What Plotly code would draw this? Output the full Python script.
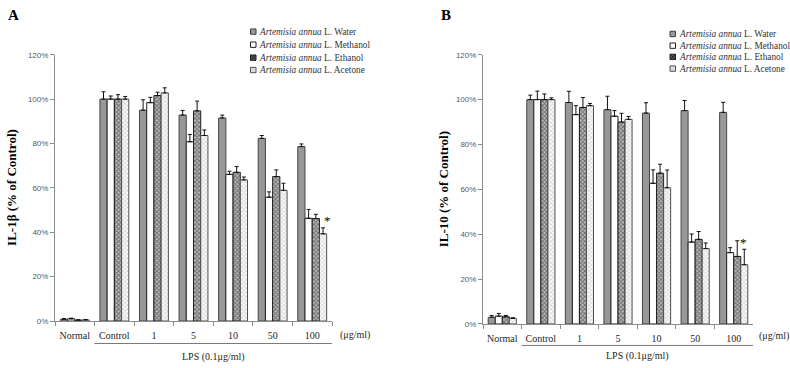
import plotly.graph_objects as go

categories = ["Normal", "Control", "1", "5", "10", "50", "100"]
series_names = ["Water", "Methanol", "Ethanol", "Acetone"]

water_A = [0.8, 100, 95.0, 92.8, 91.5, 82.3, 78.6]
water_A_err = [0.3, 3.3, 4.7, 2.1, 1.3, 1.3, 1.2]
meth_A = [1.0, 100, 98.4, 80.8, 66.1, 55.8, 46.3]
meth_A_err = [0.3, 1.4, 2.4, 3.3, 1.4, 2.4, 4.0]
eth_A = [0.4, 100, 101.6, 94.7, 67.0, 65.1, 46.2]
eth_A_err = [0.2, 2.0, 1.5, 4.4, 2.6, 3.0, 1.9]
ace_A = [0.5, 100, 102.8, 83.6, 63.6, 58.9, 39.3]
ace_A_err = [0.2, 1.2, 2.3, 2.5, 1.3, 3.2, 2.7]

water_B = [3.0, 100, 98.7, 95.5, 94.0, 95.1, 94.3]
water_B_err = [0.8, 2.0, 5.0, 6.0, 4.6, 4.5, 4.5]
meth_B = [3.5, 100, 93.3, 92.6, 62.7, 36.5, 31.8]
meth_B_err = [1.2, 3.8, 4.0, 2.5, 6.0, 3.6, 2.2]
eth_B = [3.2, 100, 96.5, 90.0, 67.2, 37.7, 30.1]
eth_B_err = [0.6, 2.5, 4.4, 3.9, 4.0, 3.5, 7.0]
ace_B = [2.5, 100, 97.3, 91.2, 60.7, 33.6, 26.4]
ace_B_err = [0.3, 0.8, 1.0, 1.3, 7.9, 2.5, 6.9]

y_ticks = [0, 20, 40, 60, 80, 100, 120]
y_tick_text = ["0%", "20%", "40%", "60%", "80%", "100%", "120%"]

SERIF = "Liberation Serif, Times New Roman, serif"
SANS = "Liberation Sans, Arial, sans-serif"

W, H = 790, 368

styles = {
    "Water": dict(color="#989898", line=dict(color="#454545", width=1)),
    "Methanol": dict(color="#ffffff", line=dict(color="#202020", width=1)),
    "Ethanol": dict(color="#606060", line=dict(color="#202020", width=1),
                    pattern=dict(shape="x", fgcolor="#1a1a1a", bgcolor="#bdbdbd",
                                 size=3, solidity=0.55)),
    "Acetone": dict(color="#ffffff", line=dict(color="#505050", width=1),
                    pattern=dict(shape="x", fgcolor="#b0b0b0", bgcolor="#ffffff",
                                 size=3, solidity=0.5)),
}
legend_icon = {
    "Water": ("#989898", "#404040"),
    "Methanol": ("#ffffff", "#202020"),
    "Ethanol": ("#5a5a5a", "#202020"),
    "Acetone": ("#dcdcdc", "#505050"),
}

fig = go.Figure()

panels = [
    ("x", "y", [water_A, meth_A, eth_A, ace_A],
     [water_A_err, meth_A_err, eth_A_err, ace_A_err]),
    ("x2", "y2", [water_B, meth_B, eth_B, ace_B],
     [water_B_err, meth_B_err, eth_B_err, ace_B_err]),
]

for xa, ya, vals, errs in panels:
    for name, v, e in zip(series_names, vals, errs):
        fig.add_trace(go.Bar(
            x=categories, y=v, xaxis=xa, yaxis=ya,
            name="Artemisia annua L. " + name, showlegend=False,
            marker=styles[name],
            error_y=dict(type="data", symmetric=False, array=e,
                         arrayminus=[0] * len(e), color="#111111",
                         thickness=1, width=2),
        ))

axis_common_x = dict(
    type="category", showline=True, linecolor="#8c8c8c", linewidth=1,
    ticks="outside", tickson="boundaries", ticklen=4, tickcolor="#8c8c8c",
    tickangle=0, ticklabelstandoff=5,
    tickfont=dict(family=SERIF, size=10, color="#262626"),
    showgrid=False, zeroline=False, range=[-0.5, 6.5], fixedrange=True,
)
axis_common_y = dict(
    range=[0, 120], tickvals=y_ticks, ticktext=y_tick_text,
    showline=True, linecolor="#8c8c8c", linewidth=1, ticks="outside",
    ticklen=4, tickcolor="#8c8c8c",
    tickfont=dict(family=SANS, size=8, color="#595959"),
    showgrid=False, zeroline=False,
)

fig.update_layout(
    width=W, height=H,
    margin=dict(l=0, r=0, t=0, b=0),
    paper_bgcolor="white", plot_bgcolor="white",
    barmode="group", bargap=0.27, bargroupgap=0,
    xaxis=dict(domain=[55 / W, 332 / W], anchor="y", **axis_common_x),
    yaxis=dict(domain=[(H - 325) / H, (H - 52) / H], anchor="x", **axis_common_y),
    xaxis2=dict(domain=[483 / W, 753 / W], anchor="y2", **axis_common_x),
    yaxis2=dict(domain=[(H - 328) / H, (H - 52) / H], anchor="x2", **axis_common_y),
    showlegend=False,
)

ann = []
shapes = []
# panel labels
for lab, xp in [("A", 13), ("B", 446)]:
    ann.append(dict(text="<b>%s</b>" % lab, x=xp / W, y=1 - 11 / H, xref="paper", yref="paper",
                    xanchor="center", yanchor="middle", showarrow=False,
                    font=dict(family=SERIF, size=15, color="black")))
# y titles
ann.append(dict(text="<b>IL-1β (% of Control)</b>", x=12 / W, xref="paper",
                xanchor="center", yanchor="middle",
                y=0.5, yref="y domain", textangle=-90, showarrow=False,
                font=dict(family=SERIF, size=13, color="black")))
ann.append(dict(text="<b>IL-10 (% of Control)</b>", x=443 / W, xref="paper",
                xanchor="center", yanchor="middle",
                y=0.5, yref="y2 domain", textangle=-90, showarrow=False,
                font=dict(family=SERIF, size=13, color="black")))
# units labels
for xd, ytxt, xs in [("x domain", 339, 6), ("x2 domain", 340, 4)]:
    ann.append(dict(text="(μg/ml)", x=1, xref=xd, xanchor="left", xshift=xs,
                    y=(H - ytxt) / H, yref="paper", yanchor="middle", showarrow=False,
                    font=dict(family=SERIF, size=10, color="#262626")))
# LPS labels
for xr, ylps in [("x", 362), ("x2", 361)]:
    ann.append(dict(text="LPS (0.1μg/ml)", x=3.5, xref=xr,
                    y=(H - ylps) / H, yref="paper", yanchor="middle", showarrow=False,
                    font=dict(family=SERIF, size=10, color="#262626")))
# significance stars (category axes use serial index in annotations)
star_idx = categories.index("100")
ann.append(dict(text="*", x=star_idx, xref="x", y=ace_A[-1] + ace_A_err[-1], yref="y",
                xshift=15, yshift=7, showarrow=False,
                font=dict(family=SERIF, size=13, color="black")))
ann.append(dict(text="*", x=star_idx, xref="x2", y=ace_B[-1] + ace_B_err[-1], yref="y2",
                xshift=10, yshift=7, showarrow=False,
                font=dict(family=SERIF, size=13, color="black")))

# custom legends (icon + text), one per panel
legend_layout = [
    (250.5, [28.3, 41.7, 55.0, 67.7]),
    (670.0, [30.7, 42.7, 54.2, 66.2]),
]
for lx, rows in legend_layout:
    for name, ry in zip(series_names, rows):
        fill, edge = legend_icon[name]
        shapes.append(dict(type="rect", xref="paper", yref="paper",
                           x0=lx / W, x1=(lx + 5.5) / W,
                           y0=(H - ry - 2.75) / H, y1=(H - ry + 2.75) / H,
                           fillcolor=fill, line=dict(color=edge, width=1)))
        if name == "Ethanol":
            for a, b in [(0, 1), (1, 0)]:
                shapes.append(dict(type="line", xref="paper", yref="paper",
                                   x0=lx / W, x1=(lx + 5.5) / W,
                                   y0=(H - ry - 2.75 + 5.5 * a) / H,
                                   y1=(H - ry - 2.75 + 5.5 * b) / H,
                                   line=dict(color="#1a1a1a", width=0.8)))
        ann.append(dict(text="<i>Artemisia annua</i> L. " + name,
                        x=(lx + 6.5) / W, y=(H - ry) / H, xref="paper", yref="paper",
                        xanchor="left", yanchor="middle", showarrow=False,
                        font=dict(family=SERIF, size=9.3, color="#333333")))

# LPS bracket lines
for xr, ypx in [("x", 348), ("x2", 350)]:
    shapes.append(dict(type="line", xref=xr, x0=0.5, x1=6.5, yref="paper",
                       y0=(H - ypx) / H, y1=(H - ypx) / H,
                       line=dict(color="#7a7a7a", width=1)))

fig.update_layout(annotations=ann, shapes=shapes)

fig.write_html("out.html",
               config={"displayModeBar": False},
               post_script="document.body.style.margin='0';document.body.style.overflow='hidden';")
